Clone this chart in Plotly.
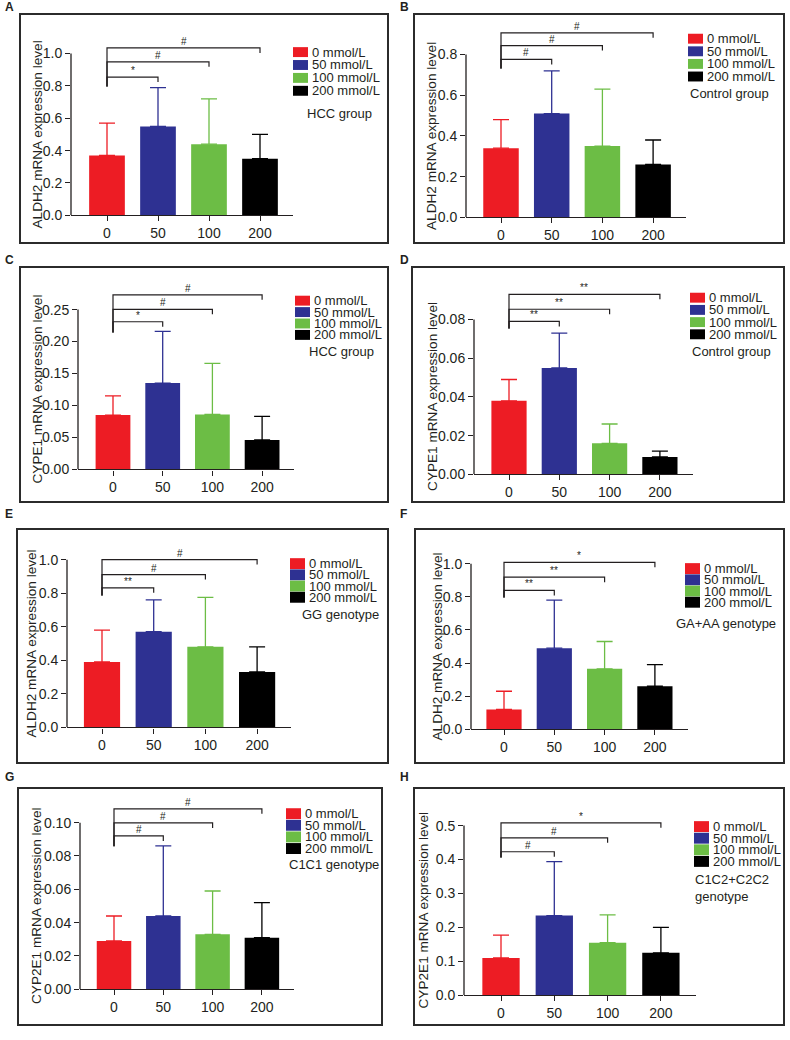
import plotly.graph_objects as go

W, H = 790, 1040

groups = ["0", "50", "100", "200"]
legend_labels = ["0 mmol/L", "50 mmol/L", "100 mmol/L", "200 mmol/L"]
colors = ["#ED1C24", "#2E3192", "#6CBD45", "#000000"]

panel_ids = ["A", "B", "C", "D", "E", "F", "G", "H"]
y_titles = ["ALDH2 mRNA expression level", "ALDH2 mRNA expression level",
            "CYPE1 mRNA expression level", "CYPE1 mRNA expression level",
            "ALDH2 mRNA expression level", "ALDH2 mRNA expression level",
            "CYP2E1 mRNA expression level", "CYP2E1 mRNA expression level"]
group_notes = ["HCC group", "Control group", "HCC group", "Control group",
               "GG genotype", "GA+AA genotype", "C1C1 genotype", "C1C2+C2C2<br>genotype"]

# bar means and upper ends of error bars
A_mean = [0.37, 0.55, 0.44, 0.35];      A_upper = [0.57, 0.79, 0.72, 0.50]
B_mean = [0.34, 0.51, 0.35, 0.26];      B_upper = [0.48, 0.72, 0.63, 0.38]
C_mean = [0.085, 0.135, 0.086, 0.046];  C_upper = [0.115, 0.216, 0.166, 0.083]
D_mean = [0.038, 0.055, 0.016, 0.009];  D_upper = [0.049, 0.073, 0.026, 0.012]
E_mean = [0.39, 0.57, 0.48, 0.33];      E_upper = [0.58, 0.76, 0.775, 0.48]
F_mean = [0.12, 0.49, 0.365, 0.26];     F_upper = [0.23, 0.78, 0.53, 0.39]
G_mean = [0.029, 0.044, 0.033, 0.031];  G_upper = [0.044, 0.086, 0.059, 0.052]
H_mean = [0.11, 0.235, 0.155, 0.125];   H_upper = [0.177, 0.394, 0.237, 0.20]

# significance brackets (0 vs 50, 0 vs 100, 0 vs 200)
A_sig = ["*", "#", "#"];     A_br = [0.855, 0.949, 1.035];    A_base = 0.796
B_sig = ["#", "#", "#"];     B_br = [0.776, 0.844, 0.907];    B_base = 0.732
C_sig = ["*", "#", "#"];     C_br = [0.231, 0.2505, 0.273];   C_base = 0.214
D_sig = ["**", "**", "**"];  D_br = [0.079, 0.0853, 0.093];   D_base = 0.0754
E_sig = ["**", "#", "#"];    E_br = [0.832, 0.911, 1.0];      E_base = 0.787
F_sig = ["**", "**", "*"];   F_br = [0.838, 0.918, 1.008];    F_base = 0.795
G_sig = ["#", "#", "#"];     G_br = [0.092, 0.0998, 0.1083];  G_base = 0.0859
H_sig = ["#", "#", "*"];     H_br = [0.423, 0.464, 0.508];    H_base = 0.406

y_tops = [1.0, 0.8, 0.25, 0.08, 1.0, 1.0, 0.10, 0.5]
y_dticks = [0.2, 0.2, 0.05, 0.02, 0.2, 0.2, 0.02, 0.1]
y_formats = [".1f", ".1f", ".2f", ".2f", ".1f", ".1f", ".2f", ".1f"]

means = [A_mean, B_mean, C_mean, D_mean, E_mean, F_mean, G_mean, H_mean]
uppers = [A_upper, B_upper, C_upper, D_upper, E_upper, F_upper, G_upper, H_upper]
sigs = [A_sig, B_sig, C_sig, D_sig, E_sig, F_sig, G_sig, H_sig]
brs = [A_br, B_br, C_br, D_br, E_br, F_br, G_br, H_br]
bases = [A_base, B_base, C_base, D_base, E_base, F_base, G_base, H_base]

# ---- layout geometry (pixels) ----
frames = [(20, 14, 388, 245), (414, 14, 784, 245), (20, 269, 388, 506), (412, 269, 784, 506),
          (17, 533, 388, 769), (415, 533, 784, 769), (18, 794, 382, 1033), (414, 794, 784, 1033)]
ax_left = [71, 466, 78, 474, 67, 471, 80, 464]
cat0 = [107, 501, 113, 509, 102, 504, 114, 501]
cat_sp = [51, 50.7, 49.7, 50.3, 51.7, 50.3, 49.3, 53.3]
zero_px = [217, 219, 473, 478, 733, 735, 997, 1003]
top_px = [54, 55, 312, 322, 564, 568, 829, 832]
title_off = [34, 34, 41, 41, 35, 34, 43, 41]
leg_x = [293, 688, 295, 690, 290, 685, 286, 694]
leg_y0 = [52.5, 39, 303, 300, 568, 573, 820, 833]
leg_dy = [13, 12.7, 11.5, 12.3, 11.3, 11.3, 11.7, 11.7]
note_pos = [(305, 114), (688, 94), (307, 354), (690, 354), (300, 619), (674, 628), (287, 871), (693, 895)]
letter_pos = [(3, 7), (398, 7), (3, 262), (398, 262), (3, 518), (398, 518), (3, 783), (398, 783)]

FONT = "Liberation Sans, Arial, sans-serif"
TXT = "#231F20"
LINE = "#231F20"


def fx(px):
    return px / W


def fy(py):
    return 1 - py / H


fig = go.Figure()
shapes = []
annotations = []
layout_axes = {}

for i in range(8):
    n = i + 1
    xa = "x" if n == 1 else f"x{n}"
    ya = "y" if n == 1 else f"y{n}"
    xkey = "xaxis" if n == 1 else f"xaxis{n}"
    ykey = "yaxis" if n == 1 else f"yaxis{n}"

    k = (zero_px[i] - top_px[i]) / y_tops[i]  # px per unit
    left_pad = (cat0[i] - ax_left[i]) / cat_sp[i]
    x_range = [-left_pad, 3.65]
    ax_right = ax_left[i] + (3.65 + left_pad) * cat_sp[i]
    dom_top_px = frames[i][1] + 10
    y_max = (zero_px[i] - dom_top_px) / k
    nt = int(round(y_tops[i] / y_dticks[i]))
    tvals = [round(m * y_dticks[i], 4) for m in range(nt + 1)]

    # bars
    for j in range(4):
        fig.add_trace(go.Bar(
            x=[j], y=[means[i][j]], width=0.7,
            marker=dict(color=colors[j], line=dict(width=0)),
            error_y=dict(type="data", symmetric=False,
                         array=[uppers[i][j] - means[i][j]], arrayminus=[0],
                         color=colors[j], thickness=1.3, width=8),
            xaxis=xa, yaxis=ya, showlegend=False, hoverinfo="skip"))

    # significance brackets
    tick_d = 5 / k
    for j in range(3):
        h = brs[i][j]
        fig.add_trace(go.Scatter(
            x=[0, 0, j + 1, j + 1], y=[bases[i], h, h, h - tick_d],
            mode="lines", line=dict(color=LINE, width=1.2),
            xaxis=xa, yaxis=ya, showlegend=False, hoverinfo="skip"))
        annotations.append(dict(
            x=(j + 1) / 2, y=h, xref=xa, yref=ya, text=sigs[i][j],
            showarrow=False, yanchor="bottom", yshift=-1,
            font=dict(family=FONT, size=10, color=TXT)))

    layout_axes[xkey] = dict(
        domain=[fx(ax_left[i]), fx(ax_right)], anchor=ya, range=x_range,
        tickvals=[0, 1, 2, 3], ticktext=groups, showline=True, linecolor=LINE,
        linewidth=1.3, ticks="outside", ticklen=5, tickwidth=1.3, tickcolor=LINE,
        showgrid=False, zeroline=False,
        tickfont=dict(family=FONT, size=14, color=TXT))
    layout_axes[ykey] = dict(
        domain=[fy(zero_px[i]), fy(dom_top_px)], anchor=xa, range=[0, y_max],
        tickmode="array", tickvals=tvals, tickformat=y_formats[i], showline=False,
        ticks="outside", ticklen=5, tickwidth=1.3, tickcolor=LINE,
        showgrid=False, zeroline=False,
        tickfont=dict(family=FONT, size=14, color=TXT))

    # y-axis line up to the top tick
    shapes.append(dict(type="line", xref=f"{xa} domain", yref=ya, x0=0, x1=0,
                       y0=0, y1=y_tops[i], line=dict(color=LINE, width=1.3)))

    # y-axis title
    annotations.append(dict(
        x=fx(ax_left[i] - title_off[i]), y=fy((zero_px[i] + top_px[i]) / 2),
        xref="paper", yref="paper",
        text=y_titles[i], textangle=-90, showarrow=False, xanchor="center", yanchor="middle",
        font=dict(family=FONT, size=13.6, color=TXT)))

    # panel frame
    fx0, fy0, fx1, fy1 = frames[i]
    shapes.append(dict(type="rect", xref="paper", yref="paper",
                       x0=fx(fx0), x1=fx(fx1), y0=fy(fy1), y1=fy(fy0),
                       line=dict(color="#2B2B2B", width=2), fillcolor="rgba(0,0,0,0)"))

    # panel letter
    lx, ly = letter_pos[i]
    annotations.append(dict(x=fx(lx), y=fy(ly), xref="paper", yref="paper", text=f"<b>{panel_ids[i]}</b>",
                            showarrow=False, xanchor="left", yanchor="middle",
                            font=dict(family=FONT, size=12, color=TXT)))

    # legend
    sq_h = 10 if i < 4 else 11
    for j in range(4):
        cy = leg_y0[i] + j * leg_dy[i]
        shapes.append(dict(type="rect", xref="paper", yref="paper",
                           x0=fx(leg_x[i]), x1=fx(leg_x[i] + 15),
                           y0=fy(cy + sq_h / 2), y1=fy(cy - sq_h / 2),
                           line=dict(width=0), fillcolor=colors[j]))
        annotations.append(dict(x=fx(leg_x[i] + 17), y=fy(cy), xref="paper", yref="paper",
                                text=legend_labels[j], showarrow=False, xanchor="left",
                                yanchor="middle", font=dict(family=FONT, size=13, color=TXT)))
    nx, ny = note_pos[i]
    annotations.append(dict(x=fx(nx), y=fy(ny), xref="paper", yref="paper", text=group_notes[i],
                            showarrow=False, xanchor="left", yanchor="middle", align="left",
                            font=dict(family=FONT, size=13, color=TXT)))

fig.update_layout(
    width=W, height=H, margin=dict(l=0, r=0, t=0, b=0),
    paper_bgcolor="white", plot_bgcolor="white",
    barmode="overlay", showlegend=False,
    shapes=shapes, annotations=annotations, **layout_axes)

fig.write_html("out.html", config={"displayModeBar": False},
               post_script="document.body.style.margin='0';document.body.style.overflow='hidden';")
